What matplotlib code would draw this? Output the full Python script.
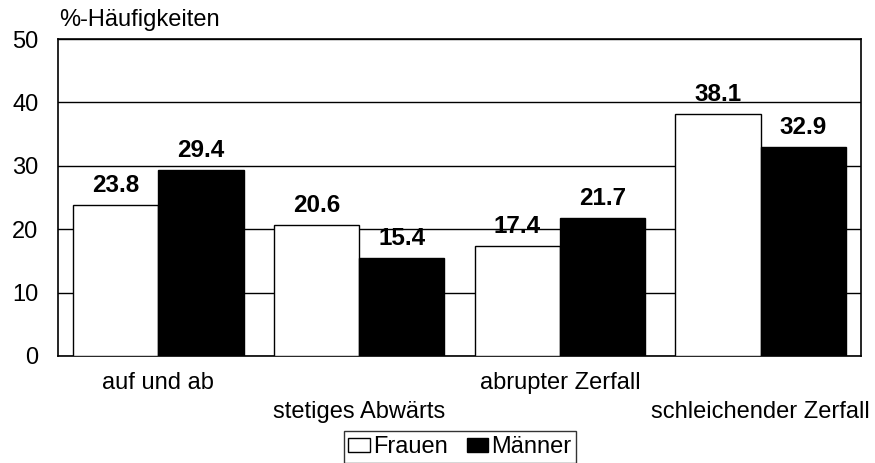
import matplotlib
matplotlib.use("Agg")
import matplotlib.pyplot as plt
import numpy as np

categories = ["auf und ab", "stetiges Abwärts", "abrupter Zerfall", "schleichender Zerfall"]
frauen = [23.8, 20.6, 17.4, 38.1]
maenner = [29.4, 15.4, 21.7, 32.9]
series_names = ["Frauen", "Männer"]
yticks = [0, 10, 20, 30, 40, 50]

plt.rcParams['font.family'] = ['Liberation Sans', 'DejaVu Sans']
FS = 17

fig = plt.figure(figsize=(8.75, 4.63), dpi=100)
ax = fig.add_axes([58/875, 1-356/463, 803/875, 317/463])

x = np.arange(len(categories))
w = 0.425
b1 = ax.bar(x - w/2, frauen, w, color='white', edgecolor='black', linewidth=1, label=series_names[0], zorder=3)
b2 = ax.bar(x + w/2, maenner, w, color='black', edgecolor='black', linewidth=1, label=series_names[1], zorder=3)

for bars, vals in ((b1, frauen), (b2, maenner)):
    for r, v in zip(bars, vals):
        ax.annotate(f"{v:.1f}", (r.get_x() + r.get_width()/2, v), xytext=(0, 8),
                    textcoords='offset pixels', ha='center', va='bottom',
                    fontsize=17.5, fontweight='bold', zorder=4)

ax.set_xlim(-0.5, len(categories) - 0.5)
ax.set_ylim(0, 50)
ax.set_yticks(yticks)
ax.set_yticklabels([str(t) for t in yticks], fontsize=FS)
ax.yaxis.grid(True, color='black', linewidth=1, zorder=0)
ax.tick_params(axis='y', length=0, pad=14)
ax.tick_params(axis='x', length=0)
ax.set_xticks(x)
ax.set_xticklabels([])
for i, c in enumerate(categories):
    off = 27 if i % 2 == 0 else 56
    ax.annotate(c, (x[i], 0), xycoords=('data', 'axes fraction'), xytext=(0, -off),
                textcoords='offset pixels', ha='center', va='center', fontsize=FS)

for s in ax.spines.values():
    s.set_linewidth(1.2)

fig.text(59/875, 1-20/463, "%-Häufigkeiten", fontsize=FS, ha='left', va='center')

leg = fig.legend(handles=[b1, b2], labels=series_names, loc='center',
                 bbox_to_anchor=(460/875, 1-447/463), ncol=2, frameon=True, fancybox=False,
                 edgecolor='black', fontsize=FS, handlelength=0.9, handleheight=0.55,
                 handletextpad=0.15, columnspacing=0.8, borderpad=0.2, borderaxespad=0)
leg.get_frame().set_linewidth(1)

fig.savefig("out.png", dpi=100)
